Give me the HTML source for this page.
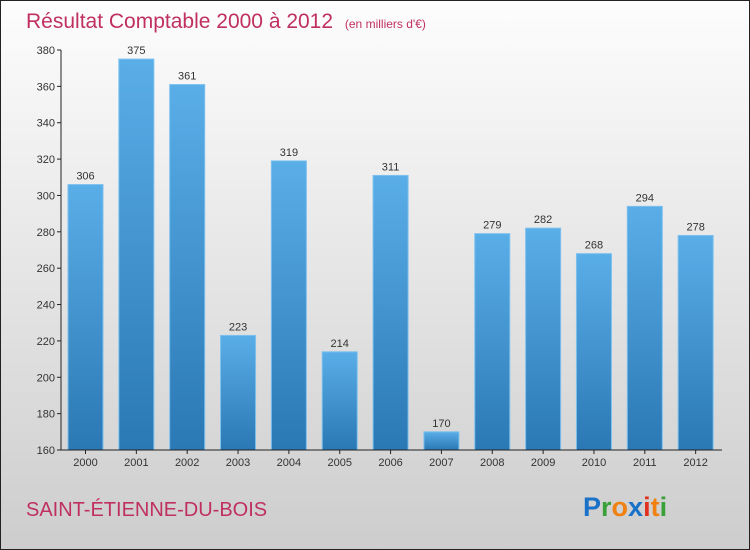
<!DOCTYPE html>
<html><head><meta charset="utf-8"><style>
html,body{margin:0;padding:0;width:750px;height:550px;overflow:hidden;}
svg{display:block;font-family:"Liberation Sans",sans-serif;}
</style></head><body>
<svg width="750" height="550" viewBox="0 0 750 550">
<defs>
<linearGradient id="bg" x1="0" y1="0" x2="0" y2="1"><stop offset="0" stop-color="#fdfdfd"/><stop offset="1" stop-color="#cdcdcd"/></linearGradient>
<linearGradient id="bar" x1="0" y1="0" x2="0" y2="1"><stop offset="0" stop-color="#5aaee8"/><stop offset="1" stop-color="#2a78b4"/></linearGradient>
</defs>
<rect x="0.5" y="0.5" width="749" height="549" fill="url(#bg)" stroke="#222"/>
<text x="26" y="28" font-size="21" fill="#c0305f">Résultat Comptable 2000 à 2012 <tspan font-size="12" dx="6">(en milliers d'€)</tspan></text>
<g id="plot"></g>
<text x="26" y="516" font-size="20" fill="#c0305f">SAINT-ÉTIENNE-DU-BOIS</text>
<text x="583" y="516" font-size="27" font-weight="bold"><tspan fill="#1a72c8">P</tspan><tspan fill="#3aa03a">r</tspan><tspan fill="#f08010">o</tspan><tspan fill="#1a72c8">x</tspan><tspan fill="#e03020">i</tspan><tspan fill="#f08010">t</tspan><tspan fill="#3aa03a">i</tspan></text>
</svg>
<script>
const years=["2000","2001","2002","2003","2004","2005","2006","2007","2008","2009","2010","2011","2012"];
const values=[306,375,361,223,319,214,311,170,279,282,268,294,278];
const ticks=[160,180,200,220,240,260,280,300,320,340,360,380];
const ns="http://www.w3.org/2000/svg";
const g=document.getElementById("plot");
const x0=61,x1=722,yTop=50,yBot=450,vmin=160,vmax=380;
const slot=(x1-x0)/years.length;
const y=v=>yBot-(v-vmin)/(vmax-vmin)*(yBot-yTop);
function mk(t,a){const e=document.createElementNS(ns,t);for(const k in a)e.setAttribute(k,a[k]);g.appendChild(e);return e;}
ticks.forEach(t=>{
 const l=mk("line",{x1:x0-4,x2:x0,y1:y(t),y2:y(t),stroke:"#222"});
 
 
 const tx=mk("text",{x:x0-6,y:y(t)+4,"text-anchor":"end","font-size":"11",fill:"#333"});
 tx.textContent=t;
 
 
});
years.forEach((yr,i)=>{
 const bx=x0+slot*i+7,bw=35,by=y(values[i]);
 const r=mk("rect",{x:bx,y:by,width:bw,height:yBot-by,fill:"url(#bar)",stroke:"#7cc0ee","stroke-width":"1"});
 
 
 const v=mk("text",{x:bx+bw/2,y:by-5,"text-anchor":"middle","font-size":"11",fill:"#333"});
 v.textContent=values[i];
 
 
 const tk=mk("line",{x1:bx+bw/2,x2:bx+bw/2,y1:yBot,y2:yBot+4,stroke:"#222"});
 
 
 const xl=mk("text",{x:bx+bw/2,y:yBot+16,"text-anchor":"middle","font-size":"11",fill:"#333"});
 xl.textContent=yr;
 
 
});
const ya=mk("line",{x1:x0,x2:x0,y1:yTop,y2:yBot,stroke:"#222"});


const xa=mk("line",{x1:x0,x2:x1,y1:yBot,y2:yBot,stroke:"#222"});


</script>
</body></html>
